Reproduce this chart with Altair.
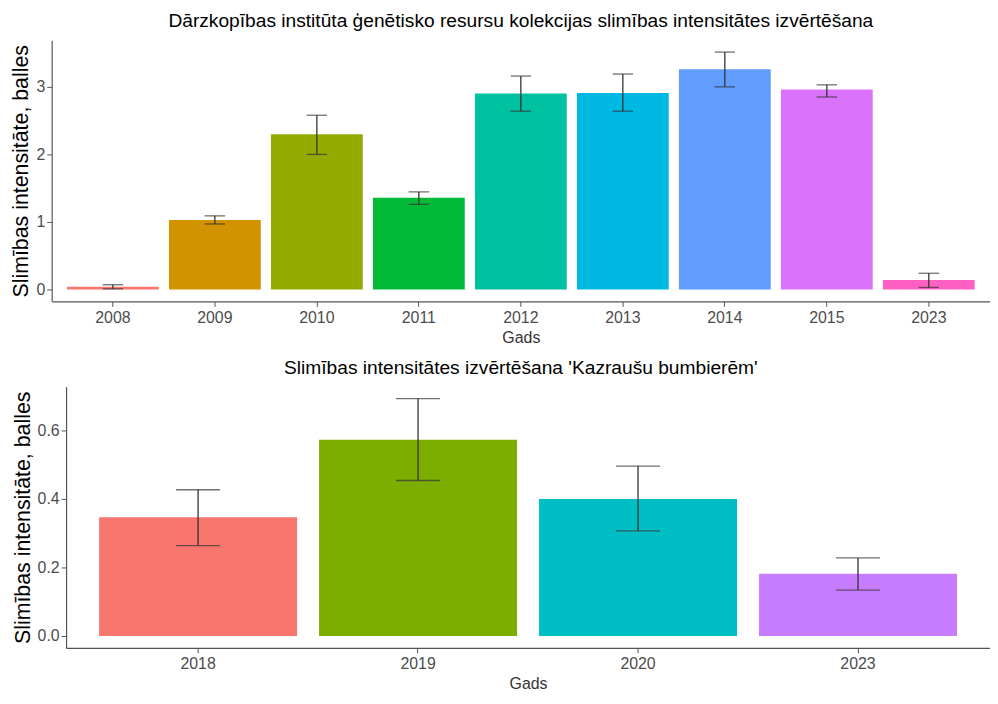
import altair as alt
import pandas as pd

# --- Top panel data (Dārzkopības institūta ģenētisko resursu kolekcija) ---
years_top = ["2008", "2009", "2010", "2011", "2012", "2013", "2014", "2015", "2023"]
mean_top = [0.04, 1.03, 2.30, 1.36, 2.90, 2.91, 3.26, 2.96, 0.14]
lower_top = [0.01, 0.97, 2.00, 1.26, 2.64, 2.64, 3.00, 2.85, 0.03]
upper_top = [0.07, 1.09, 2.58, 1.445, 3.16, 3.19, 3.515, 3.03, 0.24]
colors_top = ["#F8766D", "#D39200", "#93AA00", "#00BA38", "#00C19F",
              "#00B9E3", "#619CFF", "#DB72FB", "#FF61C3"]
ticks_top = [0, 1, 2, 3]

# --- Bottom panel data ('Kazraušu bumbierēm') ---
years_bot = ["2018", "2019", "2020", "2023"]
mean_bot = [0.347, 0.573, 0.400, 0.182]
lower_bot = [0.264, 0.454, 0.307, 0.134]
upper_bot = [0.427, 0.693, 0.496, 0.228]
colors_bot = ["#F8766D", "#7CAE00", "#00BFC4", "#C77CFF"]
ticks_bot = [0.0, 0.2, 0.4, 0.6]

title_top = "Dārzkopības institūta ģenētisko resursu kolekcijas slimības intensitātes izvērtēšana"
title_bot = "Slimības intensitātes izvērtēšana 'Kazraušu bumbierēm'"
y_title = "Slimības intensitāte, balles"
x_title = "Gads"

FONT = "Liberation Sans"
W = 945
H = 263


def panel(years, means, lows, highs, colors, ticks, fmt, title, shift, pad_frac=0.05):
    df = pd.DataFrame({"Gads": years, "mean": means, "lower": lows, "upper": highs})
    top = max(highs)
    domain = [-pad_frac * top, top * (1 + pad_frac)]
    xs = alt.X("Gads:N", sort=years,
               scale=alt.Scale(paddingInner=0.1, paddingOuter=0.15, range=[shift, W]),
               axis=alt.Axis(title=x_title, labelAngle=0))
    yscale = alt.Scale(domain=domain, nice=False, zero=False)
    yaxis = alt.Axis(title=y_title, values=ticks, format=fmt, offset=-shift)
    bars = alt.Chart(df).mark_bar().encode(
        x=xs,
        y=alt.Y("mean:Q", scale=yscale, axis=yaxis),
        y2=alt.datum(0),
        color=alt.Color("Gads:N", scale=alt.Scale(domain=years, range=colors), legend=None),
    )
    rule = alt.Chart(df).mark_rule(color="#333333", strokeWidth=1.3).encode(
        x=xs,
        y=alt.Y("lower:Q", scale=yscale, axis=yaxis),
        y2="upper:Q",
    )
    cap = (W - shift) / (len(years) + 0.2) * 0.2
    cap_lo = alt.Chart(df).mark_tick(color="#333333", size=cap, thickness=1.3).encode(
        x=xs, y=alt.Y("lower:Q", scale=yscale, axis=yaxis))
    cap_hi = alt.Chart(df).mark_tick(color="#333333", size=cap, thickness=1.3).encode(
        x=xs, y=alt.Y("upper:Q", scale=yscale, axis=yaxis))
    return alt.layer(bars, rule, cap_lo, cap_hi).properties(
        width=W, height=H,
        title=alt.TitleParams(title, anchor="middle", fontSize=19.3, font=FONT,
                              fontWeight="normal", color="#000000", offset=9),
    )


top_chart = panel(years_top, mean_top, lower_top, upper_top, colors_top, ticks_top, "d",
                  title_top, 0)
bot_chart = panel(years_bot, mean_bot, lower_bot, upper_bot, colors_bot, ticks_bot, ".1f",
                  title_bot, 14.5)

chart = alt.vconcat(top_chart, bot_chart, spacing=13).resolve_scale(
    color="independent"
).properties(
    padding={"left": 3, "top": 1, "right": 0, "bottom": 0},
).configure_view(stroke=None).configure_axis(
    grid=False,
    domainColor="#555555",
    domainWidth=1.2,
    tickColor="#555555",
    tickSize=5,
    labelFont=FONT,
    labelFontSize=16,
    labelColor="#4D4D4D",
    titleFont=FONT,
    titleFontWeight="normal",
).configure_axisX(
    labelPadding=3,
    titleFontSize=16,
    titleColor="#333333",
    titlePadding=4,
).configure_axisY(
    labelPadding=2,
    titleFontSize=21.5,
    titleColor="#000000",
    titlePadding=3,
)

chart.save("out.html", embed_options={"renderer": "svg", "actions": False})
